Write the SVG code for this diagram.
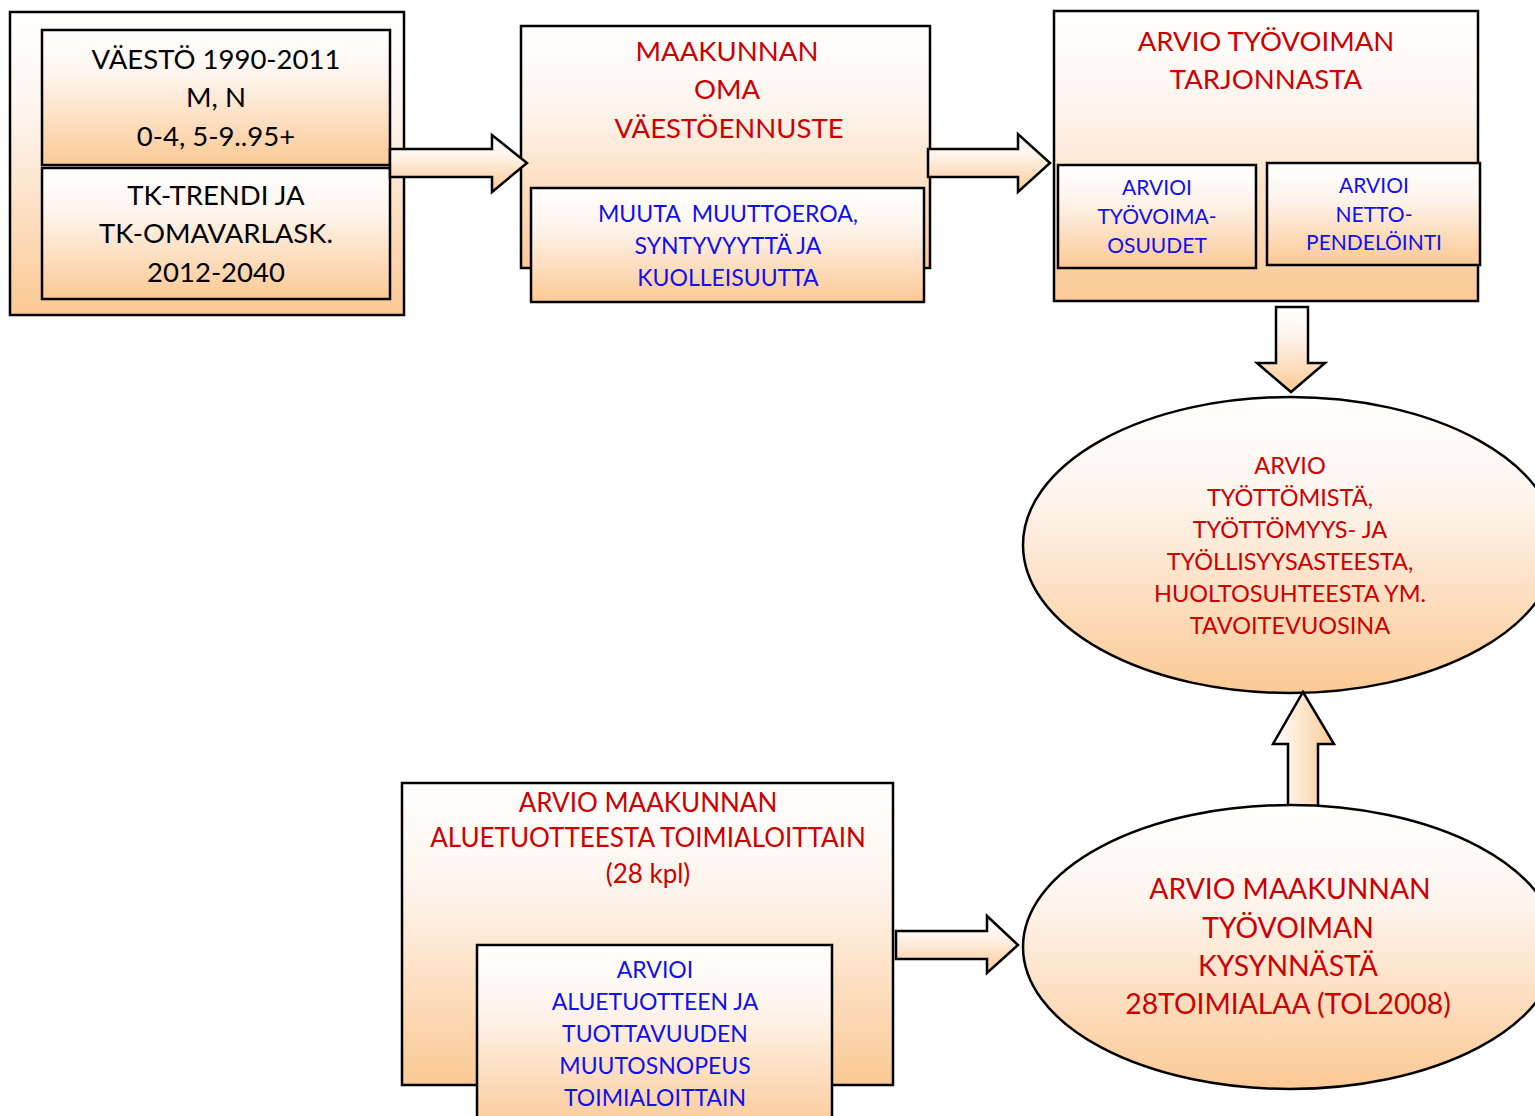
<svg xmlns="http://www.w3.org/2000/svg" width="1535" height="1116" viewBox="0 0 1535 1116">
<defs>
<linearGradient id="gv" x1="0" y1="0" x2="0" y2="1">
<stop offset="0" stop-color="#FFFFFF"/>
<stop offset="0.35" stop-color="#FEF4EC"/>
<stop offset="1" stop-color="#FBC994"/>
</linearGradient>
<linearGradient id="gh" x1="0" y1="0" x2="1" y2="0">
<stop offset="0" stop-color="#FFFFFF"/>
<stop offset="1" stop-color="#FBC994"/>
</linearGradient>
<style>
.box{fill:url(#gv);stroke:#000;stroke-width:2.5}
.arr{fill:url(#gv);stroke:#000;stroke-width:2.5;stroke-linejoin:miter}
.arrh{fill:url(#gh);stroke:#000;stroke-width:2.5;stroke-linejoin:miter}
text{font-family:Lato,"Liberation Sans","DejaVu Sans",sans-serif;text-anchor:middle}
.blk{fill:#000;font-size:27.5px}
.red{fill:#CC0000;font-size:27.5px}
.redl{fill:#CC0000;font-size:28.3px}
.redm{fill:#CC0000;font-size:26px}
.reds{fill:#CC0000;font-size:23.5px}
.blu{fill:#1010F0;font-size:23px}
.blus{fill:#1010F0;font-size:21px}
</style>
</defs>
<g id="n1">
<rect class="box" x="10" y="12" width="394" height="303"/>
<rect class="box" x="42" y="30" width="348" height="135"/>
<rect class="box" x="42" y="168" width="348" height="131"/>
<text class="blk" x="216" y="69">VÄESTÖ 1990-2011</text>
<text class="blk" x="216" y="107">M, N</text>
<text class="blk" x="216" y="146">0-4, 5-9..95+</text>
<text class="blk" x="216" y="205">TK-TRENDI JA</text>
<text class="blk" x="216" y="243">TK-OMAVARLASK.</text>
<text class="blk" x="216" y="282">2012-2040</text>
</g>
<g id="n2">
<rect class="box" x="521" y="26" width="409" height="242"/>
<text class="red" x="727" y="61">MAAKUNNAN</text>
<text class="red" x="727" y="99">OMA</text>
<text class="red" x="729" y="138">VÄESTÖENNUSTE</text>
<rect class="box" x="531" y="188" width="393" height="114"/>
<text class="blu" x="728" y="222" xml:space="preserve">MUUTA  MUUTTOEROA,</text>
<text class="blu" x="728" y="254">SYNTYVYYTTÄ JA</text>
<text class="blu" x="728" y="286">KUOLLEISUUTTA</text>
</g>
<g id="n3">
<rect class="box" x="1054" y="11" width="424" height="290"/>
<text class="red" x="1266" y="51">ARVIO TYÖVOIMAN</text>
<text class="red" x="1266" y="89">TARJONNASTA</text>
<rect class="box" x="1058" y="165" width="198" height="103"/>
<text class="blus" x="1157" y="195">ARVIOI</text>
<text class="blus" x="1157" y="224">TYÖVOIMA-</text>
<text class="blus" x="1157" y="253">OSUUDET</text>
<rect class="box" x="1267" y="163" width="213" height="102"/>
<text class="blus" x="1374" y="193">ARVIOI</text>
<text class="blus" x="1374" y="222">NETTO-</text>
<text class="blus" x="1374" y="250">PENDELÖINTI</text>
</g>
<g id="n4">
<ellipse class="box" cx="1290" cy="545" rx="267" ry="148"/>
<text class="reds" x="1290" y="474">ARVIO</text>
<text class="reds" x="1290" y="506">TYÖTTÖMISTÄ,</text>
<text class="reds" x="1290" y="538">TYÖTTÖMYYS- JA</text>
<text class="reds" x="1290" y="570">TYÖLLISYYSASTEESTA,</text>
<text class="reds" x="1290" y="602">HUOLTOSUHTEESTA YM.</text>
<text class="reds" x="1290" y="634">TAVOITEVUOSINA</text>
</g>
<g id="n5">
<rect class="box" x="402" y="783" width="491" height="302"/>
<text class="redm" x="648" y="812">ARVIO MAAKUNNAN</text>
<text class="redm" x="648" y="847">ALUETUOTTEESTA TOIMIALOITTAIN</text>
<text class="redm" x="648" y="883">(28 kpl)</text>
<rect class="box" x="477" y="945" width="355" height="190"/>
<text class="blu" x="655" y="978">ARVIOI</text>
<text class="blu" x="655" y="1010">ALUETUOTTEEN JA</text>
<text class="blu" x="655" y="1042">TUOTTAVUUDEN</text>
<text class="blu" x="655" y="1074">MUUTOSNOPEUS</text>
<text class="blu" x="655" y="1106">TOIMIALOITTAIN</text>
</g>
<g id="connectors">
<path class="arrh" d="M1288,810 L1288,744 L1273,744 L1303,692 L1334,744 L1318,744 L1318,810"/>
<g id="n6">
<ellipse class="box" cx="1290" cy="947" rx="267" ry="142"/>
<text class="redl" x="1290" y="899">ARVIO MAAKUNNAN</text>
<text class="redl" x="1288" y="938">TYÖVOIMAN</text>
<text class="redl" x="1288" y="976">KYSYNNÄSTÄ</text>
<text class="redl" x="1288" y="1014">28TOIMIALAA (TOL2008)</text>
</g>
<path class="arr" d="M390,149 L492,149 L492,135 L527,163 L492,192 L492,177 L390,177 Z"/>
<path class="arr" d="M928,149 L1018,149 L1018,134 L1050,163 L1018,192 L1018,177 L928,177 Z"/>
<path class="arr" d="M1276,307 L1308,307 L1308,363 L1325,363 L1291,392 L1257,363 L1276,363 Z"/>
<path class="arr" d="M896,931 L987,931 L987,916 L1018,945 L987,973 L987,959 L896,959 Z"/>
</g>
</svg>
